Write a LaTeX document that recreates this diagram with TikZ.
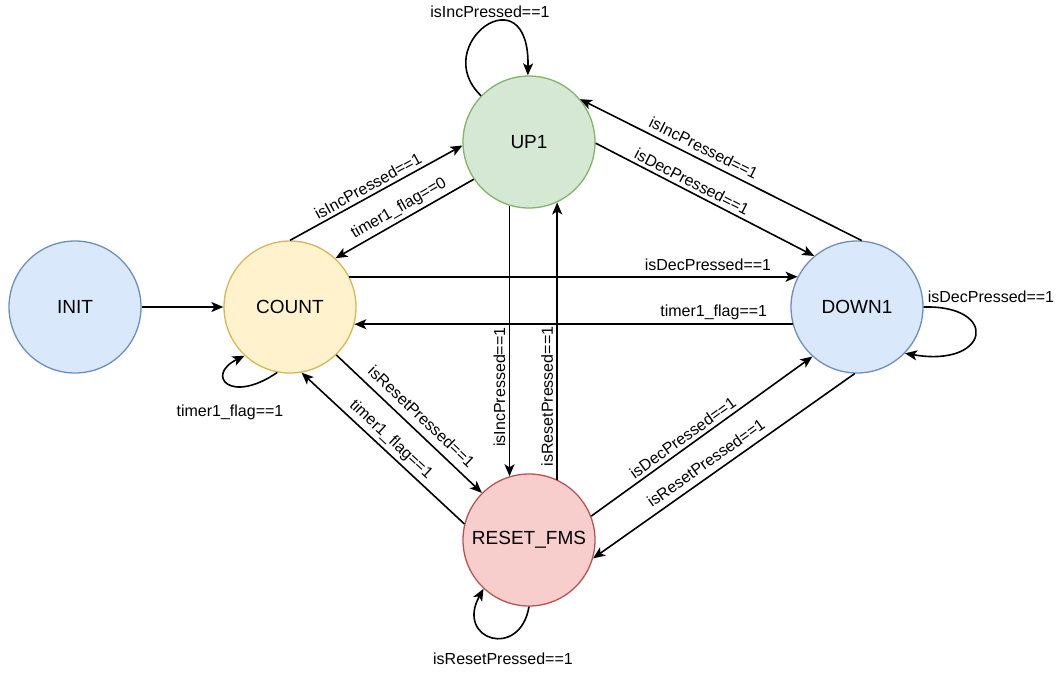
\documentclass[tikz,border=0pt]{standalone}
\usepackage{fontspec}
\setmainfont{Liberation Sans}
\usetikzlibrary{arrows.meta}
\definecolor{blueFill}{HTML}{DAE8FC}
\definecolor{blueDraw}{HTML}{6C8EBF}
\definecolor{yellowFill}{HTML}{FFF2CC}
\definecolor{yellowDraw}{HTML}{D6B656}
\definecolor{greenFill}{HTML}{D5E8D4}
\definecolor{greenDraw}{HTML}{82B366}
\definecolor{redFill}{HTML}{F8CECC}
\definecolor{redDraw}{HTML}{B85450}

\begin{document}
\begin{tikzpicture}[x=1pt, y=-1pt, line width=1.6pt,
    state/.style={circle, minimum size=132pt, inner sep=0pt, line width=1.3pt,
      font=\fontsize{19}{22}\selectfont},
    trans/.style={-{Stealth[length=12pt,width=10pt,inset=3pt]}},
    lbl/.style={font=\fontsize{16}{19}\selectfont, sloped, above},
    vlbl/.style={font=\fontsize{16}{19}\selectfont, rotate=90, above},
    looplbl/.style={font=\fontsize{16}{19}\selectfont, inner sep=0pt}]
  \useasboundingbox (0,0) rectangle (1061,673);
  \node[state, draw=blueDraw, fill=blueFill] (init) at (75,307) {INIT};
  \node[state, draw=yellowDraw, fill=yellowFill] (count) at (290,307) {COUNT};
  \node[state, draw=greenDraw, fill=greenFill] (up) at (529,142) {UP1};
  \node[state, draw=blueDraw, fill=blueFill] (down) at (857,307) {DOWN1};
  \node[state, draw=redDraw, fill=redFill] (reset) at (529,540) {RESET\_FMS};

  \draw[trans] (init) -- (count);
  \draw[trans] (count.90) -- node[lbl, pos=0.48] {isIncPressed==1} (up.183);
  \draw[trans] (up.214) -- node[lbl, pos=0.5] {timer1\_flag==0} (count.47);
  \draw[trans] (down.86) -- node[lbl, pos=0.58, above=2pt] {isIncPressed==1} (up.40);
  \draw[trans] (up.359) -- node[lbl, pos=0.42] {isDecPressed==1} (down.130);
  \draw[trans] (count.27) -- node[lbl, pos=0.8, above=2pt] {isDecPressed==1} (down.153);
  \draw[trans] (down.195) -- node[lbl, pos=0.18] {timer1\_flag==1} (count.-15);
  \draw[trans] (count.314) -- node[lbl, pos=0.52, above=4pt] {isResetPressed==1} (reset.135);
  \draw[trans] (reset.166) -- node[lbl, pos=0.5] {timer1\_flag==1} (count.280);
  \draw[trans] (up.253) -- node[vlbl, pos=0.67] {isIncPressed==1} (reset.107);
  \draw[trans] (reset.65) -- node[vlbl, pos=0.3] {isResetPressed==1} (up.295);
  \draw[trans] (reset.21) -- node[lbl, pos=0.44] {isDecPressed==1} (down.228);
  \draw[trans] (down.268) -- node[lbl, pos=0.54, above=3pt] {isResetPressed==1} (reset.344);

  \draw[trans] (up.136) .. controls (428,45) and (530,-30) .. (up.91);
  \node[looplbl] (uploop) at (490,12) {isIncPressed==1};
  \draw[trans] (down.0) .. controls (1000,305) and (990,368) .. (down.-44);
  \node[looplbl] (downloop) at (991,297) {isDecPressed==1};
  \draw[trans] (count.259) .. controls (230,405) and (205,375) .. (count.227);
  \node[looplbl] (countloop) at (230,412) {timer1\_flag==1};
  \draw[trans] (reset.270) .. controls (520,660) and (455,640) .. (reset.227);
  \node[looplbl] (resetloop) at (503,659) {isResetPressed==1};
\end{tikzpicture}
\end{document}
